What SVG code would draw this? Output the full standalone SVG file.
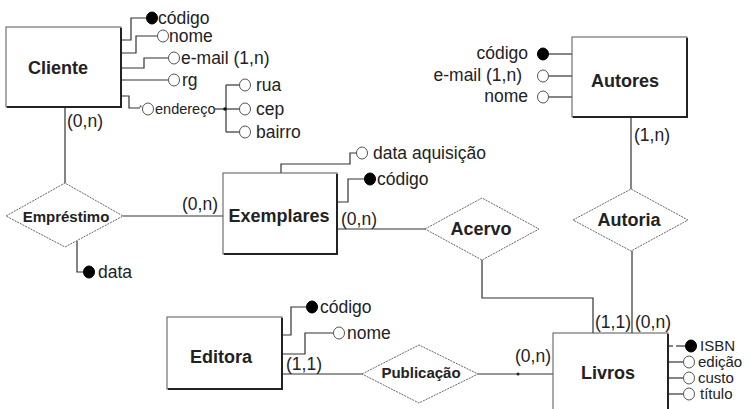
<svg xmlns="http://www.w3.org/2000/svg" width="750" height="409" viewBox="0 0 750 409">
<style>
.bg{fill:#fff}
.box{fill:#fff;stroke:#555;stroke-width:1}
.sh{fill:none;stroke:#222;stroke-width:2}
.rel{fill:#fff;stroke:#666;stroke-width:1;stroke-dasharray:2 1}
.ln{fill:none;stroke:#333;stroke-width:1.2}
.t{font-family:"Liberation Sans",Arial,sans-serif;font-size:17.5px;fill:#222}
.s{font-size:14.5px}
.l{font-size:15px}
.b{font-family:"Liberation Sans",Arial,sans-serif;font-weight:bold;font-size:18px;fill:#222;text-anchor:middle}
.bs{font-size:15px}
.k{fill:#000;stroke:#000;stroke-width:1}
.o{fill:#fff;stroke:#555;stroke-width:1}
</style>
<rect class="bg" x="0" y="0" width="750" height="409"/>

<g id="connectors">
  <!-- Cliente attributes -->
  <polyline class="ln" points="121,40 131,40 131,18 146,18"/>
  <polyline class="ln" points="121,53 136,53 136,36 157,36"/>
  <polyline class="ln" points="121,68 144,68 144,58 168,58"/>
  <polyline class="ln" points="121,80 168,80"/>
  <polyline class="ln" points="121,96 129,96 129,108 140,108"/>
  <polyline class="ln" points="226,85 226,132"/>
  <polyline class="ln" points="226,85 239,85"/>
  <polyline class="ln" points="215,109 239,109"/>
  <polyline class="ln" points="226,132 239,132"/>
  <!-- Cliente - Emprestimo -->
  <polyline class="ln" points="65,107 65,183"/>
  <!-- Emprestimo data -->
  <polyline class="ln" points="77,241 77,272 83,272"/>
  <!-- Emprestimo - Exemplares -->
  <polyline class="ln" points="123,216 223,216"/>
  <!-- Exemplares attributes -->
  <polyline class="ln" points="281,173 281,164 350,164 350,153 356,153"/>
  <polyline class="ln" points="337,202 348,202 348,179 364,179"/>
  <!-- Exemplares - Acervo -->
  <polyline class="ln" points="337,229 425,229"/>
  <!-- Acervo - Livros -->
  <polyline class="ln" points="482,260 482,298 593,298 593,333"/>
  <!-- Autores attributes -->
  <polyline class="ln" points="549,54 572,54"/>
  <polyline class="ln" points="549,76 572,76"/>
  <polyline class="ln" points="549,97 572,97"/>
  <!-- Autores - Autoria - Livros -->
  <polyline class="ln" points="631,117 631,189"/>
  <polyline class="ln" points="632,251 632,333"/>
  <!-- Editora attributes -->
  <polyline class="ln" points="283,335 291,335 291,307 306,307"/>
  <polyline class="ln" points="283,354 305,354 305,333 333,333"/>
  <!-- Editora - Publicacao - Livros -->
  <polyline class="ln" points="283,374 362,374"/>
  <polyline class="ln" points="478,374 553,374"/>
  <circle cx="518" cy="374" r="1.5" fill="#222"/>
  <!-- Livros attributes -->
  <polyline class="ln" points="669,346 673,346"/>
  <polyline class="ln" points="676,346 685,346"/>
  <polyline class="ln" points="668,362 683,362"/>
  <polyline class="ln" points="668,378 683,378"/>
  <polyline class="ln" points="668,394 683,394"/>
</g>

<g id="cliente">
  <rect class="box" x="6" y="27" width="115" height="80"/>
  <polyline class="sh" points="7,107 121,107 121,28"/>
  <text class="b" x="58" y="74">Cliente</text>
  <ellipse class="k" cx="152" cy="18" rx="5.5" ry="6"/>
  <text class="t" x="158" y="24">código</text>
  <ellipse class="o" cx="163" cy="36" rx="5.5" ry="6"/>
  <text class="t" x="169" y="42">nome</text>
  <ellipse class="o" cx="174" cy="58" rx="5.5" ry="6"/>
  <text class="t" x="181" y="64">e-mail (1,n)</text>
  <ellipse class="o" cx="174" cy="80" rx="5.5" ry="6"/>
  <text class="t" x="182" y="86">rg</text>
  <text x="139" y="110" font-family="Liberation Sans,Arial,sans-serif" font-size="8" fill="#444">*</text>
  <ellipse class="o" cx="148" cy="109" rx="5.5" ry="6"/>
  <text class="t s" x="155" y="114">endereço</text>
  <circle cx="225" cy="109" r="1.8" fill="#111"/>
  <ellipse class="o" cx="245" cy="85" rx="5.5" ry="6"/>
  <text class="t" x="256" y="91">rua</text>
  <ellipse class="o" cx="245" cy="109" rx="5.5" ry="6"/>
  <text class="t" x="256" y="115">cep</text>
  <ellipse class="o" cx="245" cy="132" rx="5.5" ry="6"/>
  <text class="t" x="256" y="138">bairro</text>
  <text class="t" x="67" y="127">(0,n)</text>
</g>

<g id="emprestimo">
  <polygon class="rel" points="6,216 65,183 123,216 65,247"/>
  <text class="b bs" x="66" y="222">Empréstimo</text>
  <ellipse class="k" cx="89" cy="272" rx="5.5" ry="6"/>
  <text class="t" x="98" y="278">data</text>
</g>

<g id="exemplares">
  <rect class="box" x="223" y="173" width="114" height="81"/>
  <polyline class="sh" points="224,254 337,254 337,174"/>
  <text class="b" x="279" y="222">Exemplares</text>
  <ellipse class="o" cx="362" cy="153" rx="5.5" ry="6"/>
  <text class="t" x="373" y="159">data aquisição</text>
  <ellipse class="k" cx="370" cy="179" rx="5.5" ry="6"/>
  <text class="t" x="377" y="185">código</text>
  <text class="t" x="182" y="210">(0,n)</text>
  <text class="t" x="341" y="225">(0,n)</text>
</g>

<g id="acervo">
  <polygon class="rel" points="425,229 482,198 539,229 482,260"/>
  <text class="b" x="481" y="235">Acervo</text>
</g>

<g id="autores">
  <rect class="box" x="572" y="37" width="115" height="80"/>
  <polyline class="sh" points="573,117 687,117 687,38"/>
  <text class="b" x="625" y="87">Autores</text>
  <ellipse class="k" cx="543" cy="54" rx="5.5" ry="6"/>
  <text class="t" x="528" y="59" text-anchor="end">código</text>
  <ellipse class="o" cx="543" cy="76" rx="5.5" ry="6"/>
  <text class="t" x="522" y="81" text-anchor="end">e-mail (1,n)</text>
  <ellipse class="o" cx="543" cy="97" rx="5.5" ry="6"/>
  <text class="t" x="528" y="102" text-anchor="end">nome</text>
  <text class="t" x="634" y="141">(1,n)</text>
</g>

<g id="autoria">
  <polygon class="rel" points="573,220 631,189 688,220 631,251"/>
  <text class="b" x="629" y="226">Autoria</text>
</g>

<g id="editora">
  <rect class="box" x="167" y="317" width="115" height="72"/>
  <polyline class="sh" points="168,389 282,389 282,318"/>
  <text class="b" x="221" y="363">Editora</text>
  <ellipse class="k" cx="312" cy="307" rx="5.5" ry="6"/>
  <text class="t" x="320" y="313">código</text>
  <ellipse class="o" cx="339" cy="333" rx="5.5" ry="6"/>
  <text class="t" x="347" y="339">nome</text>
  <text class="t" x="286" y="370">(1,1)</text>
</g>

<g id="publicacao">
  <polygon class="rel" points="362,374 419,345 478,374 419,403"/>
  <text class="b bs" x="421" y="378">Publicação</text>
</g>

<g id="livros">
  <rect class="box" x="553" y="333" width="115" height="90"/>
  <polyline class="sh" points="668,334 668,420"/>
  <text class="b" x="608" y="379">Livros</text>
  <text class="t" x="595" y="328">(1,1)</text>
  <text class="t" x="635" y="328">(0,n)</text>
  <text class="t" x="515" y="362">(0,n)</text>
  <ellipse class="k" cx="691" cy="346" rx="5.5" ry="6"/>
  <text class="t l" x="700" y="351">ISBN</text>
  <ellipse class="o" cx="689" cy="362" rx="5.5" ry="6"/>
  <text class="t l" x="698" y="367">edição</text>
  <ellipse class="o" cx="689" cy="378" rx="5.5" ry="6"/>
  <text class="t l" x="698" y="383">custo</text>
  <ellipse class="o" cx="689" cy="394" rx="5.5" ry="6"/>
  <text class="t l" x="700" y="399">título</text>
</g>
</svg>
